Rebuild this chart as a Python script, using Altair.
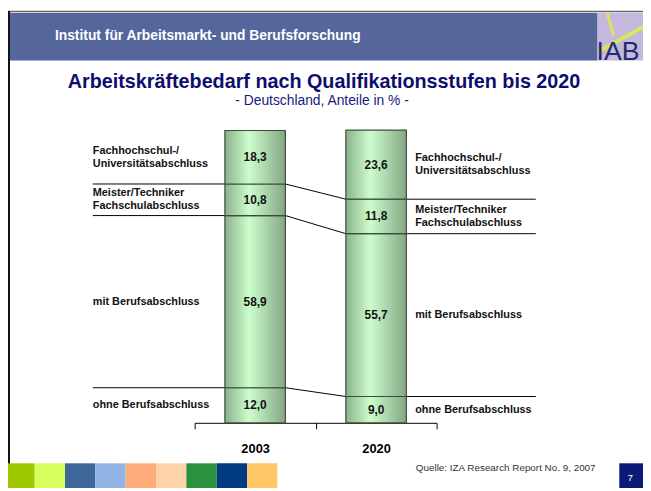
import altair as alt
import pandas as pd

# ---------------- data ----------------
years = ["2003", "2020"]
levels = [
    "ohne Berufsabschluss",
    "mit Berufsabschluss",
    "Meister/Techniker\nFachschulabschluss",
    "Fachhochschul-/\nUniversitätsabschluss",
]
shares_2003 = [12.0, 58.9, 10.8, 18.3]
shares_2020 = [9.0, 55.7, 11.8, 23.6]

header_text = "Institut für Arbeitsmarkt- und Berufsforschung"
title_text = "Arbeitskräftebedarf nach Qualifikationsstufen bis 2020"
subtitle_text = "- Deutschland, Anteile in % -"
source_text = "Quelle: IZA Research Report No. 9, 2007"
page_number = "7"
logo_text = "IAB"
footer_colors = ["#9fc800", "#d6ff5e", "#3e6699", "#92b5e6", "#ffab7a",
                 "#ffd2a8", "#2a913f", "#003a82", "#ffc766"]

# ---------------- layout constants ----------------
FONT = "Liberation Sans, Arial, sans-serif"
NAVY = "#0d0d6e"
PLOT_W, PLOT_H = 245, 296
BAR_HALF = 0.25          # half bar width in band units
LINE_LEFT, LINE_RIGHT = -0.842, 2.82
LABEL_LEFT, LABEL_RIGHT = -0.842, 1.823
LINE_H = 13.5

# ---------------- tables ----------------
rows = []
for yi, (yr, shares) in enumerate(zip(years, [shares_2003, shares_2020])):
    cum = 0.0
    for lv, v in zip(levels, shares):
        rows.append({"year": yr, "level": lv, "v": v, "y0": cum, "y1": cum + v,
                     "mid": cum + v / 2, "label": f"{v:.1f}".replace(".", ",")})
        cum += v
bars_df = pd.DataFrame(rows)

con_rows = []
for k in range(len(levels) - 1):
    b03 = sum(shares_2003[:k + 1])
    b20 = sum(shares_2020[:k + 1])
    pts = [(LINE_LEFT, b03), (0 + 0.5 + BAR_HALF, b03),
           (1 + 0.5 - BAR_HALF, b20), (LINE_RIGHT, b20)]
    for o, (x, y) in enumerate(pts):
        con_rows.append({"b": k, "o": o, "x": x, "y": y})
con_df = pd.DataFrame(con_rows)

lab_rows = []
for lv, v03, v20, c03, c20 in zip(
        levels, shares_2003, shares_2020,
        [sum(shares_2003[:i]) for i in range(len(levels))],
        [sum(shares_2020[:i]) for i in range(len(levels))]):
    n = lv.count("\n") + 1
    lab_rows.append({"t": lv, "x": LABEL_LEFT, "y": c03 + v03 / 2, "n": n})
    lab_rows.append({"t": lv, "x": LABEL_RIGHT, "y": c20 + v20 / 2, "n": n})
lab_df = pd.DataFrame(lab_rows)

foot_df = pd.DataFrame({
    "c": footer_colors,
    "x0": [-192.7 + i * 30.72 for i in range(len(footer_colors))],
    "x1": [-192.7 + (i + 1) * 30.72 for i in range(len(footer_colors))],
})

# ---------------- scales ----------------
yscale = alt.Scale(domain=[0, 100], nice=False, zero=False)
band = alt.Scale(paddingInner=0, paddingOuter=0)
qscale = alt.Scale(domain=[0, 2], nice=False, zero=False)

one = pd.DataFrame({"t": [""]})

def text_layer(txt, **kw):
    enc = {k: alt.value(v) for k, v in kw.pop("enc").items()}
    return alt.Chart(pd.DataFrame({"t": [txt]})).mark_text(font=FONT, **kw).encode(
        text="t:N", **enc)

def rect_layer(x, x2, y, y2, color):
    return alt.Chart(one).mark_rect(color=color).encode(
        x=alt.value(x), x2=alt.value(x2), y=alt.value(y), y2=alt.value(y2))

def rule_layer(x, x2, y, y2, color, w):
    return alt.Chart(one).mark_rule(color=color, strokeWidth=w).encode(
        x=alt.value(x), x2=alt.value(x2), y=alt.value(y), y2=alt.value(y2))

# ---------------- decoration ----------------
header = rect_layer(-187, 408, -119, -71, "#55669b")
logo_bg = rect_layer(408, 460, -119, -71, "#c4b8df")
logo_l1 = rule_layer(409, 460, -80, -108, "#dbe45c", 4)
logo_l2 = rule_layer(418, 424, -119, -96, "#dbe45c", 3)
logo_t = text_layer(logo_text, fontSize=27, color="#1f2c6b", align="left",
                    baseline="alphabetic", enc={"x": 407, "y": -71})
top_line = rule_layer(-189, 460, -120.5, -120.5, "#666666", 1.5)
left_line = rule_layer(-188, -188, -121, 362, "#111111", 2)

head_t = text_layer(header_text, fontSize=14, fontWeight="bold", color="white",
                    align="left", baseline="middle", enc={"x": -141.5, "y": -95.5})
title_t = text_layer(title_text, fontSize=20, fontWeight="bold", color=NAVY,
                     align="center", baseline="alphabetic", enc={"x": 131, "y": -43})
sub_t = text_layer(subtitle_text, fontSize=14, color="#1a1a80",
                   align="center", baseline="alphabetic", enc={"x": 129, "y": -26})

footer = alt.Chart(foot_df).mark_rect().encode(
    x=alt.X("x0:Q", scale=None), x2="x1:Q",
    y=alt.value(337), y2=alt.value(362),
    color=alt.Color("c:N", scale=None))
src_t = text_layer(source_text, fontSize=10, color="#333333", align="right",
                   baseline="middle", enc={"x": 406, "y": 342})
page_box = rect_layer(430, 460, 337, 362, "#0b1a78")
page_t = text_layer(page_number, fontSize=10, color="white", align="center",
                    baseline="middle", enc={"x": 441, "y": 352})

# ---------------- chart marks ----------------
lines = alt.Chart(con_df).mark_line(color="#000000", strokeWidth=1).encode(
    x=alt.X("x:Q", scale=qscale, axis=None),
    y=alt.Y("y:Q", scale=yscale, axis=None),
    detail="b:N", order="o:Q")

gradient = alt.Gradient(
    gradient="linear", x1=0, x2=1, y1=0, y2=0,
    stops=[alt.GradientStop(offset=0, color="#8cb28c"),
           alt.GradientStop(offset=0.4, color="#cdfdcd"),
           alt.GradientStop(offset=1, color="#84a784")])

bars = alt.Chart(bars_df).mark_bar(
    width=alt.RelativeBandSize(0.5), fill=gradient,
    stroke="#3c4c3c", strokeWidth=1.2).encode(
    x=alt.X("year:N", scale=band, sort=years, axis=alt.Axis(
        title=None, labelAngle=0, labelFont=FONT, labelFontSize=13,
        labelFontWeight="bold", labelColor="#000000", labelPadding=14,
        tickBand="extent", tickSize=6, tickColor="#000000", tickWidth=1,
        domainColor="#000000", domainWidth=1, grid=False)),
    y=alt.Y("y0:Q", scale=yscale, axis=None), y2="y1:Q")

vals = alt.Chart(bars_df).mark_text(
    font=FONT, fontSize=12, fontWeight="bold", color="#111111").encode(
    x=alt.X("year:N", scale=band, sort=years, axis=None),
    y=alt.Y("mid:Q", scale=yscale, axis=None),
    text="label:N")

def label_layer(nlines):
    return alt.Chart(lab_df).transform_filter(
        alt.datum.n == nlines).mark_text(
        font=FONT, fontSize=11, fontWeight="bold", color="#111111",
        align="left", baseline="middle", lineBreak="\n", lineHeight=LINE_H,
        dy=-(nlines - 1) * LINE_H / 2).encode(
        x=alt.X("x:Q", scale=qscale, axis=None),
        y=alt.Y("y:Q", scale=yscale, axis=None),
        text="t:N")

labels1 = label_layer(1)
labels2 = label_layer(2)

chart = alt.layer(
    header, logo_bg, logo_l1, logo_l2, logo_t, top_line, left_line,
    head_t, title_t, sub_t, footer, src_t, page_box, page_t,
    lines, bars, vals, labels1, labels2,
).resolve_scale(x="independent").properties(
    width=PLOT_W, height=PLOT_H,
    padding={"left": 189, "top": 121, "right": 209, "bottom": 66},
    autosize=alt.AutoSizeParams(type="none"),
).configure_view(stroke=None)

chart.save("out.html", embed_options={"renderer": "svg", "actions": False})
